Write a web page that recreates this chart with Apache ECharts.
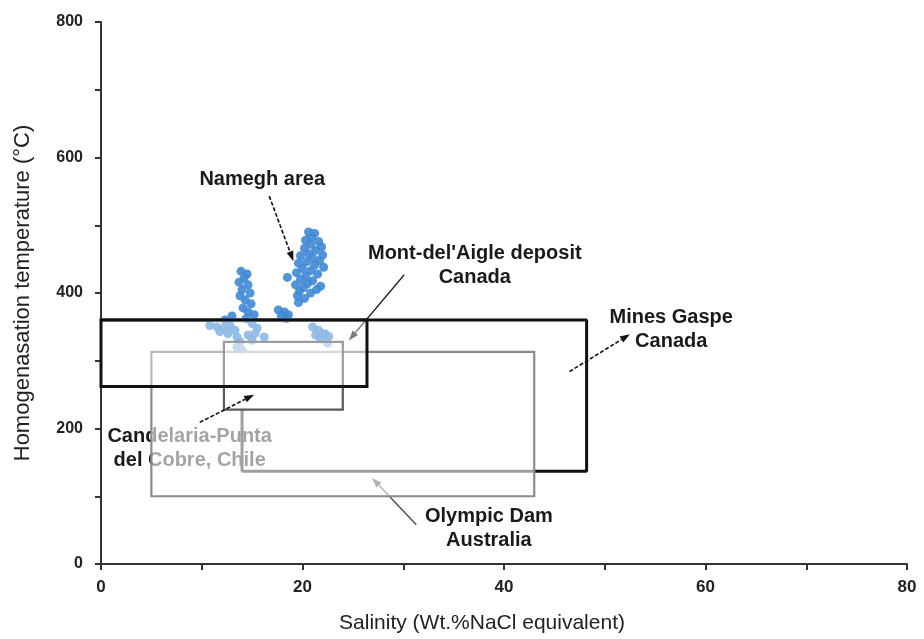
<!DOCTYPE html>
<html>
<head>
<meta charset="utf-8">
<script src="https://cdn.jsdelivr.net/npm/echarts@6/dist/echarts.min.js"></script>
<style>
  html, body { margin: 0; padding: 0; background: #fff; }
  #chart { width: 924px; height: 639px; }
</style>
</head>
<body>
<div id="chart"></div>
<script>
// Fluid inclusion measurements, Namegh area (salinity wt.% NaCl eq., Th °C)
const nameghSalinity = [
  20.6, 21.2, 20.9, 20.3, 21.6, 20.8, 21.9, 20.2, 21.3, 20.6, 22.0, 19.8, 21.0, 21.7,
  20.4, 19.6, 21.2, 22.1, 20.0, 20.8, 19.4, 21.5, 20.3, 19.8, 21.0, 20.5, 19.3, 21.8,
  20.1, 19.7, 20.8, 21.4, 19.5, 20.2, 19.6, 18.5,
  13.9, 14.5, 14.2, 13.7, 14.6, 14.0, 14.8, 13.8, 14.3, 14.9, 14.1, 14.6, 15.2, 14.4,
  10.8, 11.5, 12.2, 12.8, 11.8, 12.6, 13.3, 13.5, 13.8, 13.5, 14.0, 12.3, 13.0, 15.0,
  15.5, 15.3, 16.2, 14.6, 15.0,
  17.6, 18.2, 18.6, 17.9, 18.4,
  21.0, 21.6, 22.2, 22.6, 21.8, 22.5, 21.3
];
const nameghTemperature = [
  490, 488, 482, 478, 476, 472, 468, 466, 463, 458, 456, 455, 452, 448,
  446, 444, 441, 438, 436, 433, 430, 428, 425, 420, 418, 414, 412, 410,
  408, 403, 400, 405, 396, 392, 386, 423,
  432, 428, 422, 416, 412, 405, 400, 396, 390, 384, 378, 372, 368, 362,
  352, 350, 348, 352, 343, 340, 345, 335, 328, 320, 316, 360, 366, 355,
  348, 340, 335, 338, 330,
  375, 372, 368, 366, 362,
  350, 345, 340, 336, 332, 326, 338
];

// Published fields of other IOCG districts (rectangles: salinity range, temperature range)
const oldSalMin = 5,    oldSalMax = 43,   oldTempMin = 100, oldTempMax = 313;   // Olympic Dam
const mdaSalMin = 0,    mdaSalMax = 26.4, mdaTempMin = 262, mdaTempMax = 360;   // Mont-del'Aigle
const cpcSalMin = 12.2, cpcSalMax = 24,   cpcTempMin = 228, cpcTempMax = 328;   // Candelaria-Punta del Cobre

// Mines Gaspe outline (visible part of the field boundary)
const gaspeSalinity    = [14, 14, 48.2, 48.2, 0];
const gaspeTemperature = [228, 137, 137, 360, 360];

// Field labels
const noteText = ['Namegh area', "Mont-del'Aigle deposit\nCanada", 'Mines Gaspe\nCanada',
                  'Olympic Dam\nAustralia', 'Candelaria-Punta\ndel Cobre, Chile'];
const noteSal  = [16.0, 37.1, 56.6, 38.5, 8.8];
const noteTemp = [567, 441, 346, 53, 170];

// Leader arrows [fromSal, fromTemp, toSal, toTemp]
const arrowNamegh  = [16.7, 543, 19.1, 447];
const arrowMda     = [30.1, 427, 24.6, 330];
const arrowGaspe   = [46.5, 284, 52.5, 339];
const arrowCpc     = [9.8, 209, 15.2, 250];
const arrowOlympic = [31.3, 58, 26.9, 127];

// Axis ticks
const xTickLabels = [0, 20, 40, 60, 80];
const yTickLabels = [0, 200, 400, 600, 800];

const FONT = '"Liberation Sans", Arial, sans-serif';

function boxSeries(sMin, sMax, tMin, tMax, stroke, width, fill, z) {
  return {
    type: 'custom', z: z, silent: true,
    data: [[sMin, sMax, tMin, tMax]],
    renderItem: function (params, api) {
      const a = api.coord([api.value(0), api.value(3)]);
      const b = api.coord([api.value(1), api.value(2)]);
      return {
        type: 'rect',
        shape: { x: a[0], y: a[1], width: b[0] - a[0], height: b[1] - a[1] },
        style: { fill: fill, stroke: stroke, lineWidth: width }
      };
    }
  };
}

function arrowSeries(arr, color, width, dash, z) {
  return {
    type: 'custom', z: z, silent: true,
    data: [arr],
    renderItem: function (params, api) {
      const p0 = api.coord([api.value(0), api.value(1)]);
      const p1 = api.coord([api.value(2), api.value(3)]);
      const dx = p1[0] - p0[0], dy = p1[1] - p0[1];
      const len = Math.sqrt(dx * dx + dy * dy);
      const ux = dx / len, uy = dy / len;
      const hl = 10, hw = 3.5;
      const bx = p1[0] - ux * hl, by = p1[1] - uy * hl;
      return {
        type: 'group',
        children: [
          {
            type: 'line',
            shape: { x1: p0[0], y1: p0[1], x2: bx, y2: by },
            style: { stroke: color, lineWidth: width, lineDash: dash }
          },
          {
            type: 'polygon',
            shape: { points: [[p1[0], p1[1]], [bx - uy * hw, by + ux * hw], [bx + uy * hw, by - ux * hw]] },
            style: { fill: color }
          }
        ]
      };
    }
  };
}

function noteSeries(indices, z) {
  return {
    type: 'custom', z: z, silent: true,
    data: indices.map(function (i) { return [noteSal[i], noteTemp[i], i]; }),
    renderItem: function (params, api) {
      const p = api.coord([api.value(0), api.value(1)]);
      const idx = api.value(2);
      return {
        type: 'text',
        x: p[0], y: p[1],
        style: {
          text: noteText[idx],
          font: 'bold 20px ' + FONT,
          fill: '#1a1a1a',
          textAlign: 'center',
          textVerticalAlign: 'middle',
          align: 'center',
          verticalAlign: 'middle',
          lineHeight: 24
        }
      };
    }
  };
}

const chart = echarts.init(document.getElementById('chart'), null, { renderer: 'canvas' });

chart.setOption({
  animation: false,
  backgroundColor: '#ffffff',
  grid: { left: 101, right: 17, top: 22, bottom: 75 },
  xAxis: {
    type: 'value', min: 0, max: 80, interval: 10,
    name: 'Salinity (Wt.%NaCl equivalent)',
    nameLocation: 'middle', nameGap: 49,
    nameTextStyle: { fontFamily: FONT, fontSize: 21, color: '#222', padding: [0, 44, 0, 0] },
    axisLine: { lineStyle: { color: '#333', width: 2 } },
    axisTick: { show: true, length: 6, lineStyle: { color: '#333', width: 2 } },
    axisLabel: {
      margin: 15, fontFamily: FONT, fontWeight: 'bold', fontSize: 17, color: '#222',
      formatter: function (v) { return xTickLabels.indexOf(v) >= 0 ? String(v) : ''; }
    },
    splitLine: { show: false }
  },
  yAxis: {
    type: 'value', min: 0, max: 800, interval: 100,
    name: 'Homogenasation temperature (°C)',
    nameLocation: 'middle', nameGap: 67,
    nameTextStyle: { fontFamily: FONT, fontSize: 22, color: '#222' },
    axisLine: { show: true, lineStyle: { color: '#333', width: 2 } },
    axisTick: { show: true, length: 6, lineStyle: { color: '#333', width: 2 } },
    axisLabel: {
      margin: 18, fontFamily: FONT, fontWeight: 'bold', fontSize: 16, color: '#222',
      formatter: function (v) { return yTickLabels.indexOf(v) >= 0 ? String(v) : ''; }
    },
    splitLine: { show: false }
  },
  series: [
    {
      name: 'Mines Gaspe', type: 'line', z: 1, silent: true,
      symbol: 'none',
      data: gaspeSalinity.map(function (s, i) { return [s, gaspeTemperature[i]]; }),
      lineStyle: { color: '#111', width: 3 }
    },
    {
      name: 'Namegh area', type: 'scatter', z: 2, silent: true,
      symbolSize: 9,
      data: nameghSalinity.map(function (s, i) { return [s, nameghTemperature[i]]; }),
      itemStyle: { color: '#3f88d5', opacity: 0.9 }
    },
    noteSeries([4], 3),
    arrowSeries(arrowOlympic, '#444', 1.3, null, 3),
    boxSeries(oldSalMin, oldSalMax, oldTempMin, oldTempMax, '#8a8a8a', 2.2, 'rgba(255,255,255,0.6)', 4),
    arrowSeries(arrowMda, '#222', 1.3, null, 4),
    boxSeries(cpcSalMin, cpcSalMax, cpcTempMin, cpcTempMax, '#5a5a5a', 2.2, 'rgba(255,255,255,0.45)', 5),
    boxSeries(mdaSalMin, mdaSalMax, mdaTempMin, mdaTempMax, '#111', 3, 'rgba(255,255,255,0.4)', 6),
    arrowSeries(arrowNamegh, '#111', 1.6, [4, 2], 7),
    arrowSeries(arrowGaspe, '#111', 1.6, [4, 2], 7),
    arrowSeries(arrowCpc, '#111', 1.6, [4, 2], 7),
    noteSeries([0, 1, 2, 3], 7)
  ]
});
</script>
</body>
</html>
